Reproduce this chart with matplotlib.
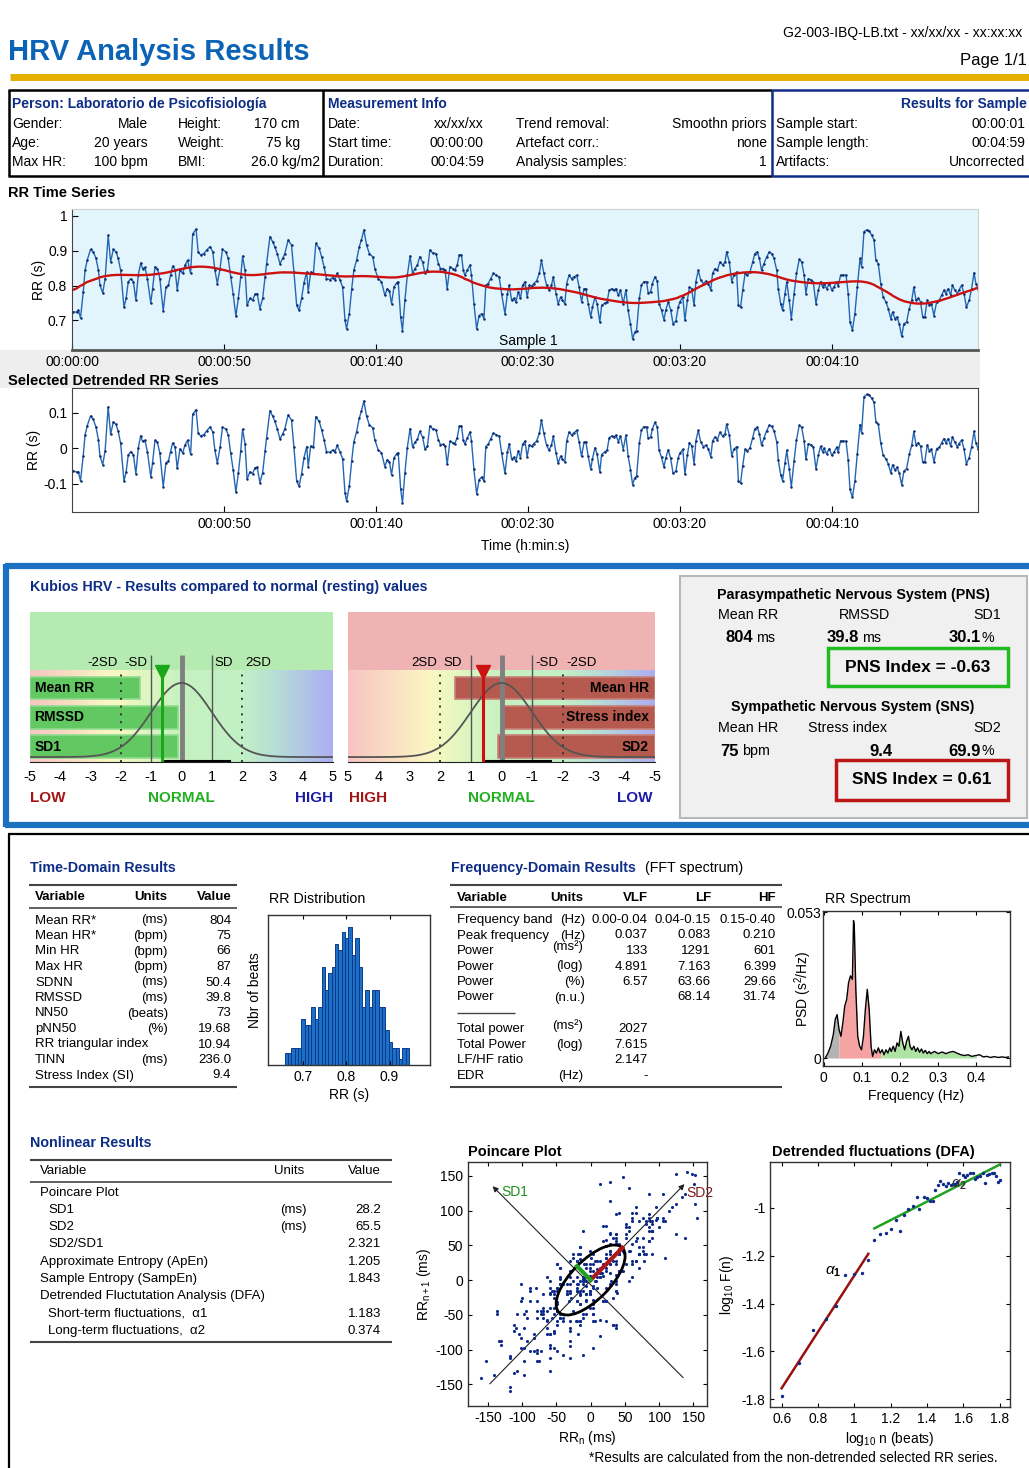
import numpy as np
import matplotlib
matplotlib.use('Agg')
import matplotlib.pyplot as plt
from matplotlib.patches import Rectangle, Ellipse
from matplotlib.colors import LinearSegmentedColormap

# ------------------------------------------------------------
# data
# ------------------------------------------------------------
rr_time = [0.4, 1.5, 2.1, 2.8, 3.7, 4.3, 5.0, 6.1, 7.0, 7.9, 8.7, 9.2, 10.1, 10.9, 11.9, 12.7, 13.6, 14.5, 15.2, 16.0,
           17.1, 17.8, 18.5, 19.3, 20.2, 21.0, 21.8, 22.6, 23.2, 24.0, 24.8, 25.9, 26.5, 27.3, 28.1, 28.9, 30.0, 30.9,
           31.7, 32.4, 33.1, 33.9, 34.6, 35.5, 36.4, 37.2, 38.0, 39.0, 39.7, 40.8, 41.5, 42.3, 43.4, 44.3, 45.4, 46.3,
           47.0, 47.8, 48.7, 49.5, 50.6, 51.4, 52.2, 53.0, 53.9, 54.7, 55.5, 56.1, 56.9, 57.6, 58.5, 59.4, 60.2, 60.9,
           61.8, 62.7, 63.5, 64.0, 65.1, 66.0, 66.7, 67.5, 68.4, 69.3, 70.0, 71.1, 72.2, 73.0, 73.9, 74.7, 75.5, 76.3,
           77.2, 77.7, 78.5, 79.4, 80.2, 81.3, 82.1, 82.9, 83.7, 84.8, 85.7, 86.5, 87.2, 88.1, 89.0, 89.8, 90.3, 91.2,
           92.0, 92.7, 93.6, 94.5, 95.2, 96.0, 96.9, 97.8, 98.9, 99.6, 100.7,
           101.8, 102.9, 103.7, 104.4, 105.1, 105.9, 106.8, 107.3, 108.1, 108.7, 109.5, 110.3, 111.2, 112.0, 112.8,
           113.6, 114.4, 115.3, 116.1, 116.9, 117.7, 118.6, 119.7, 120.5, 121.2, 122.1, 122.7, 123.4, 124.3, 125.2,
           125.9, 126.7, 127.4, 128.1, 128.7, 129.2, 130.0, 130.9, 131.4, 132.2, 133.1, 133.9, 134.7, 135.5, 136.1,
           136.9, 137.7, 138.6, 139.4, 140.5, 141.3, 142.4, 143.2, 143.8, 144.6, 145.3, 146.0, 146.8, 147.5, 148.2,
           149.0, 149.7, 150.4, 151.2, 151.9, 152.8, 153.7, 154.4, 155.2, 156.1, 156.9, 157.7, 158.3, 159.2, 159.9,
           160.7, 161.3, 162.1, 162.7, 163.5, 164.3, 165.1, 166.0, 166.8, 167.6, 168.4, 169.0, 169.8, 170.6, 171.2,
           172.0, 172.7, 173.6, 174.2, 175.3, 176.0, 176.7, 177.5, 178.2, 178.9, 179.7, 180.4, 181.3, 182.2, 182.9,
           183.7, 184.4, 185.1, 185.7, 186.6, 187.3, 188.1, 189.0, 189.5, 190.3, 190.9, 191.7, 192.5, 193.1, 193.9,
           194.7, 195.3, 196.1, 196.9, 197.7, 198.6, 199.4, 199.9,
           200.9, 201.6, 202.4, 203.1, 203.8, 204.6, 205.2, 206.0, 206.8, 207.7, 208.5, 209.3, 210.1, 210.7, 211.5,
           212.3, 213.1, 214.0, 214.8, 215.3, 216.2, 217.0, 217.7, 218.6, 219.2, 219.9, 220.6, 221.4, 222.1, 223.0,
           223.9, 224.6, 225.4, 226.1, 226.8, 227.6, 228.5, 229.4, 230.1, 230.9, 231.8, 232.3, 233.1, 233.7, 234.5,
           235.1, 235.9, 236.6, 237.5, 238.3, 239.2, 240.0, 240.8, 241.4, 242.2, 243.0, 243.8, 244.7, 245.5, 246.2,
           246.9, 247.3, 248.2, 249.1, 249.9, 250.6, 251.5, 252.0, 252.8, 253.7, 254.6, 255.3, 255.9, 256.7, 257.5,
           258.3, 259.2, 259.7, 260.5, 261.4, 262.2, 263.0, 263.8, 264.4, 265.2, 266.0, 266.8, 267.7, 268.5, 269.3,
           269.9, 270.7, 271.4, 272.1, 272.9, 273.6, 274.5, 275.4, 276.2, 276.9, 277.6, 278.4, 279.1, 279.8, 280.5,
           281.3, 282.0, 282.7, 283.5, 284.4, 285.3, 286.0, 286.8, 287.4, 288.2, 289.0, 289.6, 290.4, 291.2, 291.8,
           292.6, 293.4, 294.2, 295.1, 295.9, 296.7, 297.3, 298.1, 298.6]
rr_sec = [.724, .724, .729, .707, .782, .844, .873, .904, .897, .878, .844, .801, .779, .820, .945, .868, .904, .897,
          .878, .844, .738, .763, .811, .820, .811, .758, .830, .865, .849, .852, .820, .750, .791, .854, .849, .820,
          .727, .796, .801, .830, .856, .846, .788, .844, .835, .859, .873, .835, .948, .962, .897, .888, .892, .902,
          .912, .897, .844, .806, .849, .904, .897, .878, .825, .777, .712, .763, .825, .885, .844, .743, .763, .758,
          .775, .777, .734, .763, .825, .863, .940, .926, .912, .892, .863, .878, .892, .931, .916, .839, .743, .729,
          .763, .808, .839, .782, .839, .835, .921, .907, .883, .854, .820, .817, .823, .817, .835, .817, .796, .700,
          .676, .719, .791, .844, .873, .912, .931, .960, .916, .892, .883, .849, .820,
          .811, .772, .791, .785, .748, .796, .808, .811, .710, .671, .758, .830, .885, .835, .849, .859, .883, .868,
          .835, .844, .902, .894, .892, .863, .849, .849, .844, .791, .854, .849, .844, .859, .888, .888, .844, .830,
          .844, .859, .830, .748, .676, .714, .719, .705, .801, .806, .820, .835, .830, .825, .777, .719, .777, .801,
          .758, .763, .753, .782, .763, .801, .811, .767, .801, .798, .806, .813, .835, .873, .835, .801, .787, .801,
          .825, .777, .748, .767, .758, .748, .806, .830, .820, .825, .830, .796, .753, .791, .791, .748, .710, .738,
          .767, .748, .695, .743, .750, .753, .787, .791, .787, .791, .772, .787, .748, .788, .729, .690, .647, .666,
          .671, .763, .801, .811, .811, .779, .782, .806, .825, .813, .748, .729, .702, .729, .753, .731, .690, .698,
          .738, .753,
          .767, .700, .758, .796, .791, .743, .811, .844, .815, .806, .813, .806, .787, .835, .849, .844, .868, .859,
          .868, .897, .868, .811, .830, .839, .743, .738, .787, .835, .830, .839, .868, .892, .897, .878, .844, .863,
          .883, .897, .892, .878, .844, .791, .748, .729, .777, .811, .758, .705, .777, .835, .875, .868, .830, .777,
          .820, .817, .811, .748, .787, .811, .796, .806, .791, .806, .787, .796, .811, .798, .830, .830, .830, .777,
          .695, .673, .719, .796, .878, .854, .955, .960, .958, .945, .931, .873, .863, .806, .767, .753, .734, .705,
          .724, .705, .710, .690, .654, .690, .695, .734, .758, .796, .758, .763, .753, .710, .710, .758, .743, .748,
          .714, .753, .758, .772, .787, .777, .791, .772, .801, .787, .777, .788, .801, .777, .738, .758, .791, .837,
          .806, .791, .787]

time_ticks = [0, 50, 100, 150, 200, 250]
time_labels = ['00:00:00', '00:00:50', '00:01:40', '00:02:30', '00:03:20', '00:04:10']

# RR distribution (bins of 1/128 s)
hist_start = 0.6563
hist_counts = [2, 2, 3, 3, 3, 8, 7, 7, 10, 8, 10, 17, 13, 16, 17, 21, 20, 23, 22, 24, 19, 22, 17, 10, 13,
               10, 13, 13, 10, 10, 6, 4, 3, 3, 1, 3, 3]

# FFT spectrum
spec_f = [0.004, 0.011, 0.018, 0.025, 0.030, 0.035, 0.040, 0.045, 0.050, 0.055, 0.060, 0.065, 0.070, 0.075,
          0.078, 0.080, 0.084, 0.089, 0.094, 0.099, 0.104, 0.109, 0.114, 0.119, 0.124, 0.128, 0.133, 0.138,
          0.143, 0.148, 0.153, 0.158, 0.163, 0.168, 0.173, 0.177, 0.182, 0.187, 0.192, 0.197, 0.202, 0.207,
          0.212, 0.217, 0.222, 0.226, 0.231, 0.236, 0.241, 0.246, 0.251, 0.256, 0.261, 0.266, 0.271, 0.276,
          0.280, 0.290, 0.300, 0.310, 0.320, 0.329, 0.339, 0.349, 0.359, 0.369, 0.378, 0.388, 0.398, 0.408,
          0.418, 0.427, 0.437, 0.447, 0.457, 0.467, 0.476, 0.484]
spec_p = [0.0, 0.0018, 0.0043, 0.0085, 0.0140, 0.0158, 0.0104, 0.0079, 0.0128, 0.0189, 0.0213, 0.0274, 0.0299,
          0.0286, 0.0500, 0.0480, 0.0250, 0.0079, 0.0043, 0.0030, 0.0079, 0.0177, 0.0250, 0.0177, 0.0043, 0.0006,
          0.0030, 0.0018, 0.0037, 0.0018, 0.0030, 0.0012, 0.0030, 0.0018, 0.0037, 0.0024, 0.0043, 0.0024, 0.0055,
          0.0043, 0.0097, 0.0055, 0.0030, 0.0061, 0.0079, 0.0043, 0.0030, 0.0043, 0.0024, 0.0037, 0.0021, 0.0033,
          0.0018, 0.0028, 0.0016, 0.0024, 0.0016, 0.0024, 0.0016, 0.0022, 0.0016, 0.0021, 0.0024, 0.0018, 0.0012,
          0.0009, 0.0012, 0.0006, 0.0009, 0.0012, 0.0004, 0.0006, 0.0002, 0.0005, 0.0002, 0.0004, 0.0002, 0.0004]
bands = [(0.0, 0.04, '#b4b4b4'), (0.04, 0.15, '#f5a3a3'), (0.15, 0.40, '#aee3a4')]

# DFA
dfa_logn = [0.600, 0.695, 0.774, 0.844, 0.899, 0.950, 0.998, 1.040, 1.077, 1.110, 1.141, 1.172, 1.200, 1.228,
            1.251, 1.275, 1.297, 1.321, 1.343, 1.358, 1.383, 1.398, 1.417, 1.435, 1.444, 1.462, 1.472, 1.490,
            1.505, 1.517, 1.530, 1.541, 1.554, 1.567, 1.578, 1.596, 1.609, 1.622, 1.637, 1.651, 1.664, 1.677,
            1.692, 1.706, 1.719, 1.728, 1.743, 1.756, 1.769, 1.780, 1.793, 1.802]
dfa_logf = [-1.786, -1.647, -1.512, -1.463, -1.410, -1.279, -1.277, -1.272, -1.219, -1.135, -1.111, -1.103,
            -1.086, -1.049, -1.098, -1.028, -1.004, -0.993, -0.954, -1.006, -0.954, -0.957, -0.972, -0.972,
            -0.926, -0.905, -0.887, -0.898, -0.909, -0.895, -0.905, -0.898, -0.901, -0.891, -0.856, -0.863,
            -0.870, -0.861, -0.856, -0.854, -0.877, -0.870, -0.866, -0.856, -0.894, -0.863, -0.859, -0.856,
            -0.856, -0.868, -0.891, -0.884]

sd1, sd2 = 28.2, 65.5
pns_index, sns_index = -0.63, 0.61
pns_names = ['Mean RR', 'RMSSD', 'SD1']
pns_bars = [-1.37, -0.12, -0.12]
sns_names = ['Mean HR', 'Stress index', 'SD2']
sns_bars = [1.51, -0.08, 0.11]

td_vars = ['Mean RR*', 'Mean HR*', 'Min HR', 'Max HR', 'SDNN', 'RMSSD', 'NN50', 'pNN50',
           'RR triangular index', 'TINN', 'Stress Index (SI)']
td_units = ['(ms)', '(bpm)', '(bpm)', '(bpm)', '(ms)', '(ms)', '(beats)', '(%)', '', '(ms)', '']
td_vals = ['804', '75', '66', '87', '50.4', '39.8', '73', '19.68', '10.94', '236.0', '9.4']

fd_rows = [('Frequency band', '(Hz)', '0.00-0.04', '0.04-0.15', '0.15-0.40'),
           ('Peak frequency', '(Hz)', '0.037', '0.083', '0.210'),
           ('Power', '', '133', '1291', '601'),
           ('Power', '', '4.891', '7.163', '6.399'),
           ('Power', '(%)', '6.57', '63.66', '29.66'),
           ('Power', '(n.u.)', '', '68.14', '31.74')]
fd_rows2 = [('Total power', '2027'), ('Total Power', '7.615'), ('LF/HF ratio', '2.147'), ('EDR', '-')]

nl_rows = [('Poincare Plot', '', '', 0), ('SD1', '(ms)', '28.2', 1), ('SD2', '(ms)', '65.5', 1),
           ('SD2/SD1', '', '2.321', 1), ('Approximate Entropy (ApEn)', '', '1.205', 0),
           ('Sample Entropy (SampEn)', '', '1.843', 0), ('Detrended Fluctutation Analysis (DFA)', '', '', 0),
           ('Short-term fluctuations,  α1', '', '1.183', 1), ('Long-term fluctuations,  α2', '', '0.374', 1)]

# ------------------------------------------------------------
plt.rcParams['font.family'] = ['Liberation Sans', 'DejaVu Sans']
plt.rcParams['mathtext.fontset'] = 'custom'
plt.rcParams['mathtext.rm'] = 'Liberation Sans'
plt.rcParams['mathtext.it'] = 'Liberation Sans:italic'
plt.rcParams['mathtext.bf'] = 'Liberation Sans:bold'
plt.rcParams['axes.unicode_minus'] = False
plt.rcParams['xtick.direction'] = 'in'
plt.rcParams['ytick.direction'] = 'in'
plt.rcParams['xtick.labelsize'] = 10
plt.rcParams['ytick.labelsize'] = 10

W, H = 1029, 1468
fig = plt.figure(figsize=(W / 100, H / 100), dpi=100)
bg = fig.add_axes([0, 0, 1, 1])
bg.set_xlim(0, W)
bg.set_ylim(H, 0)
bg.axis('off')

NAVY = '#0e2d86'
BLUE = '#0b63b6'


def ax_px(x0, y0, x1, y1):
    return fig.add_axes([x0 / W, 1 - y1 / H, (x1 - x0) / W, (y1 - y0) / H])


def T(x, y, s, size=10, ha='left', weight='normal', color='black', **kw):
    bg.text(x, y, s, fontsize=size, ha=ha, va='center', fontweight=weight, color=color, **kw)


def L(x0, x1, y0, y1, color='black', lw=1.0, **kw):
    bg.plot([x0, x1], [y0, y1], color=color, lw=lw, solid_capstyle='butt', **kw)


def box_ticks(ax):
    ax.tick_params(top=True, right=True, length=3, width=0.8)
    for s in ax.spines.values():
        s.set_linewidth(1.0)
        s.set_color('#333333')


# ---------------- header ----------------
T(8, 52, 'HRV Analysis Results', size=21, weight='bold', color=BLUE)
T(1022, 33, 'G2-003-IBQ-LB.txt - xx/xx/xx - xx:xx:xx', size=10, ha='right')
T(1027, 60, 'Page 1/1', size=12, ha='right')
L(10, 1029, 77, 77, color='#e6b000', lw=5)

# info box
L(8, 772, 90, 90, lw=1.8)
L(8, 772, 176, 176, lw=1.8)
L(772, 1029, 90, 90, color=NAVY, lw=1.8)
L(772, 1029, 176, 176, color=NAVY, lw=1.8)
L(9, 9, 90, 176, lw=1.8)
L(323, 323, 90, 176, lw=1.8)
L(772, 772, 90, 176, color=NAVY, lw=1.8)
T(12, 104, 'Person: Laboratorio de Psicofisiología', weight='bold', color=NAVY)
T(328, 104, 'Measurement Info', weight='bold', color=NAVY)
T(1027, 104, 'Results for Sample', weight='bold', color=NAVY, ha='right')
rows_y = [124, 143, 162]
for y, a, b, c, d in zip(rows_y, ['Gender:', 'Age:', 'Max HR:'], ['Male', '20 years', '100 bpm'],
                         ['Height:', 'Weight:', 'BMI:'], ['170 cm', '75 kg', '26.0 kg/m2']):
    T(12, y, a)
    T(148, y, b, ha='right')
    T(178, y, c)
    T(320 if d.endswith('m2') else 300, y, d, ha='right')
for y, a, b, c, d in zip(rows_y, ['Date:', 'Start time:', 'Duration:'], ['xx/xx/xx', '00:00:00', '00:04:59'],
                         ['Trend removal:', 'Artefact corr.:', 'Analysis samples:'], ['Smoothn priors', 'none', '1']):
    T(328, y, a)
    T(484, y, b, ha='right')
    T(516, y, c)
    T(767, y, d, ha='right')
for y, a, b in zip(rows_y, ['Sample start:', 'Sample length:', 'Artifacts:'], ['00:00:01', '00:04:59', 'Uncorrected']):
    T(776, y, a)
    T(1025, y, b, ha='right')

# ---------------- RR time series ----------------
t = np.array(rr_time)
rr = np.array(rr_sec)
n = len(rr)
D2 = np.diff(np.eye(n), 2, axis=0)
lam = 75.0
trend = np.linalg.solve(np.eye(n) + lam ** 2 * D2.T @ D2, rr)   # smoothness priors trend
rr_detr = rr - trend

T(8, 193, 'RR Time Series', size=10.5, weight='bold')
bg.add_patch(Rectangle((0, 350), 980, 38, color='#eeeeee', lw=0))
ax1 = ax_px(72, 209, 978, 350)
ax1.set_facecolor('#e3f5fc')
ax1.plot(t, rr, color='#2466b4', lw=1.0, marker='.', ms=1.6, mec='#0b2a6e', mfc='#0b2a6e')
ax1.plot(t, trend, color='#cc1111', lw=1.7)
ax1.set_xlim(0, 298)
ax1.set_ylim(0.615, 1.02)
ax1.set_yticks([0.7, 0.8, 0.9, 1.0])
ax1.set_yticklabels(['0.7', '0.8', '0.9', '1'])
ax1.set_xticks(time_ticks)
ax1.set_xticklabels(time_labels)
ax1.set_ylabel('RR (s)', fontsize=10, labelpad=1)
ax1.tick_params(length=4)
ax1.text(150, 0.622, 'Sample 1', ha='center', va='bottom', fontsize=10)
for k in ['top', 'right']:
    ax1.spines[k].set_color('#d0d0d0')
ax1.spines['bottom'].set_color('#555555')
ax1.spines['bottom'].set_linewidth(2)
ax1.spines['left'].set_color('#444444')

T(8, 381, 'Selected Detrended RR Series', size=10.5, weight='bold')
ax2 = ax_px(72, 388, 978, 512)
ax2.plot(t, rr_detr, color='#2466b4', lw=1.0, marker='.', ms=1.6, mec='#0b2a6e', mfc='#0b2a6e')
ax2.set_xlim(0, 298)
ax2.set_ylim(-0.18, 0.169)
ax2.set_yticks([-0.1, 0, 0.1])
ax2.set_yticklabels(['-0.1', '0', '0.1'])
ax2.set_xticks(time_ticks[1:])
ax2.set_xticklabels(time_labels[1:])
ax2.set_ylabel('RR (s)', fontsize=10, labelpad=2)
ax2.set_xlabel('Time (h:min:s)', fontsize=10, labelpad=6)
ax2.tick_params(length=4)
for s in ax2.spines.values():
    s.set_color('#444444')

# ---------------- Kubios panel ----------------
KB = '#1c70c2'
L(5, 1029, 566, 566, color=KB, lw=4.5)
L(5, 1029, 825, 825, color=KB, lw=4.5)
L(6, 6, 564, 827, color=KB, lw=4.5)
T(30, 587, 'Kubios HRV - Results compared to normal (resting) values', size=10.3, weight='bold', color=NAVY)

grad = [(0.0, '#f8c4c4'), (0.27, '#fbf8c2'), (0.42, '#d6f5c0'), (0.5, '#c6f2c0'), (0.7, '#c2f0c6'),
        (0.82, '#b6dcd8'), (1.0, '#adadf3')]
gcmap = LinearSegmentedColormap.from_list('gauge', grad)


def gauge(x0, x1, flip, top_color, names, bars, bar_col, bar_edge, mval, mcol):
    ax = ax_px(x0, 612, x1, 762)
    ax.set_ylim(0, 1)
    ax.set_xlim((5, -5) if flip else (-5, 5))
    ext = (5, -5, 0, 0.613) if flip else (-5, 5, 0, 0.613)
    ax.imshow(np.linspace(0, 1, 256)[None, :], extent=ext, aspect='auto', cmap=gcmap, zorder=0)
    ax.axhspan(0.613, 1.0, color=top_color, lw=0, zorder=0)
    ys = [0.493, 0.297, 0.103]
    ax.barh(ys, [v + 5 for v in bars], left=-5, height=0.15, color=bar_col, edgecolor=bar_edge,
            lw=1.2, zorder=2)
    for y, nm in zip(ys, names):
        if flip:
            ax.text(-4.8, y, nm, ha='right', va='center', fontsize=10, fontweight='bold', zorder=6)
        else:
            ax.text(-4.85, y, nm, ha='left', va='center', fontsize=10, fontweight='bold', zorder=6)
    xs = np.linspace(-5, 5, 300)
    ax.plot(xs, 0.033 + 0.494 * np.exp(-xs ** 2 / 2), color='#555555', lw=1.3, zorder=4)
    ax.vlines(0, 0, 0.713, color='#808080', lw=3.5, zorder=3)
    ax.vlines([-1, 1], 0, 0.713, color='#555555', lw=1.0, zorder=3)
    ax.vlines([-2, 2], 0, 0.613, color='#333333', lw=1.4, linestyles=(0, (1, 3)), zorder=3)
    if not flip:
        ax.text(-2.1, 0.66, '-2SD', ha='right', va='center', fontsize=9.5)
        ax.text(-1.9, 0.66, '-SD', ha='left', va='center', fontsize=9.5)
        ax.text(1.1, 0.66, 'SD', ha='left', va='center', fontsize=9.5)
        ax.text(2.1, 0.66, '2SD', ha='left', va='center', fontsize=9.5)
        ax.plot([-0.54, 1.6], [0.006, 0.006], color='black', lw=1.5, zorder=5)
    else:
        ax.text(2.1, 0.66, '2SD', ha='right', va='center', fontsize=9.5)
        ax.text(1.9, 0.66, 'SD', ha='left', va='center', fontsize=9.5)
        ax.text(-1.1, 0.66, '-SD', ha='left', va='center', fontsize=9.5)
        ax.text(-2.1, 0.66, '-2SD', ha='left', va='center', fontsize=9.5)
        ax.plot([0.54, -1.6], [0.006, 0.006], color='black', lw=1.5, zorder=5)
    ax.vlines(mval, 0, 0.6, color=mcol, lw=2.2, zorder=5)
    ax.plot(mval, 0.6, marker='v', ms=10, color=mcol, zorder=6)
    ax.set_xticks(range(-5, 6))
    ax.set_xticklabels([str(v) for v in range(-5, 6)])
    ax.tick_params(left=False, labelleft=False, bottom=False, labelsize=10.5, pad=6)
    for k in ['top', 'right', 'left']:
        ax.spines[k].set_visible(False)
    ax.spines['bottom'].set_color('#222222')
    return ax


gauge(30, 333, False, '#b5ebb0', pns_names, pns_bars, '#62c962', '#8edc8e', pns_index, '#1aa81a')
gauge(348, 655, True, '#f0b3b3', sns_names, sns_bars, '#b65a4f', '#c88078', sns_index, '#cc1111')

T(181, 623, 'Parasympathetic tone (recovery)', size=10.3, weight='bold', ha='center')
T(181, 643, 'PNS Index = %.2f' % pns_index, size=10.3, weight='bold', ha='center')
T(501, 623, 'Sympathetic tone (stress)', size=10.3, weight='bold', ha='center')
T(501, 643, 'SNS Index = %.2f' % sns_index, size=10.3, weight='bold', ha='center')
T(30, 798, 'LOW', size=11, weight='bold', color='#a31515')
T(181, 798, 'NORMAL', size=11, weight='bold', color='#22b022', ha='center')
T(333, 798, 'HIGH', size=11, weight='bold', color='#1c1ca8', ha='right')
T(349, 798, 'HIGH', size=11, weight='bold', color='#a31515')
T(501, 798, 'NORMAL', size=11, weight='bold', color='#22b022', ha='center')
T(653, 798, 'LOW', size=11, weight='bold', color='#1c1ca8', ha='right')

# summary box
bg.add_patch(Rectangle((680, 576), 347, 242, fc='#f0f0f0', ec='#b8b8b8', lw=1.5))
T(853, 595, 'Parasympathetic Nervous System (PNS)', size=10.3, weight='bold', ha='center')
T(718, 615, 'Mean RR', size=10.3)
T(864, 615, 'RMSSD', size=10.3, ha='center')
T(1001, 615, 'SD1', size=10.3, ha='right')
T(753, 638, '804', size=12, weight='bold', ha='right')
T(756, 638, 'ms', size=10.3)
T(859, 638, '39.8', size=12, weight='bold', ha='right')
T(862, 638, 'ms', size=10.3)
T(981, 638, '30.1', size=12, weight='bold', ha='right')
T(981, 638, '%', size=10.3)
bg.add_patch(Rectangle((828, 648), 180, 38, fill=False, ec='#22bb22', lw=2.5))
T(918, 667, 'PNS Index = %.2f' % pns_index, size=12.5, weight='bold', ha='center')
T(853, 707, 'Sympathetic Nervous System (SNS)', size=10.3, weight='bold', ha='center')
T(718, 728, 'Mean HR', size=10.3)
T(848, 728, 'Stress index', size=10.3, ha='center')
T(1001, 728, 'SD2', size=10.3, ha='right')
T(739, 751, '75', size=12, weight='bold', ha='right')
T(742, 751, 'bpm', size=10.3)
T(892, 751, '9.4', size=12, weight='bold', ha='right')
T(981, 751, '69.9', size=12, weight='bold', ha='right')
T(981, 751, '%', size=10.3)
bg.add_patch(Rectangle((836, 760), 172, 40, fill=False, ec='#bb1515', lw=2.5))
T(922, 780, 'SNS Index = %.2f' % sns_index, size=12.5, weight='bold', ha='center')

# ---------------- lower section ----------------
L(8, 1029, 834, 834, lw=1.6)
L(9, 9, 834, 1468, lw=1.6)

# time-domain table
T(30, 868, 'Time-Domain Results', size=10.3, weight='bold', color=NAVY)
L(29, 237, 885, 885, color='#444444', lw=1.5)
T(35, 897, 'Variable', size=9.5, weight='bold')
T(167, 897, 'Units', size=9.5, weight='bold', ha='right')
T(232, 897, 'Value', size=9.5, weight='bold', ha='right')
L(29, 237, 908, 908, color='#444444', lw=1.2)
for i, (v, u, val) in enumerate(zip(td_vars, td_units, td_vals)):
    y = 920.5 + i * 15.5
    T(35, y, v, size=9.5)
    T(168, y, u, size=9.5, ha='right')
    T(231, y, val, size=9.5, ha='right')
L(29, 237, 1087, 1087, color='#444444', lw=1.5)

# RR distribution
binw = 1.0 / 128
edges = hist_start + binw * np.arange(len(hist_counts))
axh = ax_px(268, 915, 430, 1065)
axh.bar(edges, hist_counts, width=binw, align='edge', color='#1b6fc6', edgecolor='#0c3b8c', lw=0.7)
axh.set_xlim(0.618, 0.994)
axh.set_ylim(0, 26)
axh.set_yticks([])
axh.set_xticks([0.7, 0.8, 0.9])
axh.set_xticklabels(['0.7', '0.8', '0.9'])
axh.set_xlabel('RR (s)', fontsize=10, labelpad=3)
axh.set_ylabel('Nbr of beats', fontsize=10, labelpad=4)
box_ticks(axh)
T(269, 899, 'RR Distribution', size=10.3)

# frequency-domain table
T(451, 868, 'Frequency-Domain Results', size=10.3, weight='bold', color=NAVY)
T(645, 868, '(FFT spectrum)', size=10.3)
L(450, 782, 885, 885, color='#444444', lw=1.5)
T(457, 898, 'Variable', size=9.5, weight='bold')
T(583, 898, 'Units', size=9.5, weight='bold', ha='right')
T(648, 898, 'VLF', size=9.5, weight='bold', ha='right')
T(711, 898, 'LF', size=9.5, weight='bold', ha='right')
T(776, 898, 'HF', size=9.5, weight='bold', ha='right')
L(450, 782, 907, 907, color='#444444', lw=1.2)
for i, (v, u, a, b, c) in enumerate(fd_rows):
    y = 920 + i * 15.5
    T(457, y, v, size=9.5)
    T(585, y, u, size=9.5, ha='right')
    T(648, y, a, size=9.5, ha='right')
    T(711, y, b, size=9.5, ha='right')
    T(776, y, c, size=9.5, ha='right')
T(583, 947, '(ms²)', size=9.5, ha='right')
T(583, 966, '(log)', size=9.5, ha='right')
L(457, 515, 1013, 1013, color='#444444', lw=1.0)
for i, (v, a) in enumerate(fd_rows2):
    y = 1029 + i * 15.7
    T(457, y, v, size=9.5)
    T(648, y, a, size=9.5, ha='right')
T(583, 1026, '(ms²)', size=9.5, ha='right')
T(583, 1045, '(log)', size=9.5, ha='right')
T(583, 1076, '(Hz)', size=9.5, ha='right')
L(450, 782, 1087, 1087, color='#444444', lw=1.5)

# spectrum
f = np.array(spec_f)
p = np.array(spec_p)
axs = ax_px(823, 911, 1010, 1066)
for lo, hi, col in bands:
    i0 = max(np.searchsorted(f, lo) - 1, 0)
    i1 = min(np.searchsorted(f, hi) + 1, len(f))
    ff = np.clip(f[i0:i1], lo, hi)
    axs.fill_between(ff, 0, p[i0:i1], color=col, lw=0)
axs.plot(f, p, color='black', lw=1.0)
axs.set_xlim(-0.002, 0.488)
axs.set_ylim(-0.0029, 0.0535)
axs.set_yticks([0, 0.053])
axs.set_yticklabels(['0', '0.053'])
axs.set_xticks([0, 0.1, 0.2, 0.3, 0.4])
axs.set_xticklabels(['0', '0.1', '0.2', '0.3', '0.4'])
axs.tick_params(axis='y', pad=1)
axs.set_xlabel('Frequency (Hz)', fontsize=10, labelpad=3)
axs.set_ylabel('PSD (s$^2$/Hz)', fontsize=10)
axs.yaxis.set_label_coords(-0.05, 0.5)
box_ticks(axs)
T(825, 899, 'RR Spectrum', size=10.3)

# nonlinear table
T(30, 1143, 'Nonlinear Results', size=10.3, weight='bold', color=NAVY)
L(30, 392, 1160, 1160, color='#444444', lw=1.5)
T(40, 1171, 'Variable', size=9.5)
T(304, 1171, 'Units', size=9.5, ha='right')
T(381, 1171, 'Value', size=9.5, ha='right')
L(30, 392, 1182, 1182, color='#444444', lw=1.2)
for i, (v, u, val, ind) in enumerate(nl_rows):
    y = 1192.5 + i * 17.3
    T(40 + 8 * ind, y, v, size=9.5)
    T(307, y, u, size=9.5, ha='right')
    T(381, y, val, size=9.5, ha='right')
L(30, 392, 1342, 1342, color='#444444', lw=1.5)

# Poincare plot
x_pc = (rr[:-1] - rr.mean()) * 1000
y_pc = (rr[1:] - rr.mean()) * 1000
axp = ax_px(468, 1162, 707, 1406)
axp.scatter(x_pc, y_pc, s=5, color='#0d2a8a', lw=0, zorder=2)
cx, cy = x_pc.mean(), y_pc.mean()
axp.add_patch(Ellipse((cx, cy), 2 * sd2, 2 * sd1, angle=45, fill=False, ec='black', lw=2, zorder=3))
c45 = np.cos(np.pi / 4)
axp.annotate('', xy=(140, 141), xytext=(-150, -152),
             arrowprops=dict(arrowstyle='-|>', color='#222222', lw=0.8, mutation_scale=8), zorder=1)
axp.annotate('', xy=(-146, 138), xytext=(138, -143),
             arrowprops=dict(arrowstyle='-|>', color='#222222', lw=0.8, mutation_scale=8), zorder=1)
axp.plot([cx, cx + sd2 * c45], [cy, cy + sd2 * c45], color='#b01818', lw=3, zorder=4)
axp.plot([cx, cx - sd1 * c45], [cy, cy + sd1 * c45], color='#22a022', lw=3, zorder=4)
axp.text(-131, 127, 'SD1', color='#1f8f1f', fontsize=10, va='center')
axp.text(140, 125, 'SD2', color='#7a1a1a', fontsize=10, va='center')
axp.set_xlim(-179, 170)
axp.set_ylim(-181, 170)
axp.set_xticks([-150, -100, -50, 0, 50, 100, 150])
axp.set_yticks([-150, -100, -50, 0, 50, 100, 150])
axp.set_xlabel('RR$_{\\mathrm{n}}$ (ms)', fontsize=10, labelpad=3)
axp.set_ylabel('RR$_{\\mathrm{n+1}}$ (ms)', fontsize=10, labelpad=2)
box_ticks(axp)
T(468, 1152, 'Poincare Plot', size=10.5, weight='bold')

# DFA
lx = np.array(dfa_logn)
lf = np.array(dfa_logf)
axd = ax_px(770, 1162, 1010, 1407)
axd.scatter(lx, lf, s=6, color='#0d2a8a', lw=0, zorder=3)
m1 = lx <= 1.09
m2 = lx >= 1.10
k1 = np.polyfit(lx[m1], lf[m1], 1)
k2 = np.polyfit(lx[m2], lf[m2], 1)
xa = np.array([lx[m1].min(), lx[m1].max()])
xb = np.array([lx[m2].min(), lx[m2].max()])
axd.plot(xa, np.polyval(k1, xa), color='#9a1010', lw=1.8, zorder=2)
axd.plot(xb, np.polyval(k2, xb), color='#22a022', lw=1.8, zorder=2)
axd.text(0.84, -1.268, '$\\alpha_{\\mathbf{1}}$', fontsize=11, va='center')
axd.text(1.535, -0.905, '$\\alpha_{\\mathbf{2}}$', fontsize=11, va='center', color='#333333')
axd.set_xlim(0.536, 1.857)
axd.set_ylim(-1.832, -0.808)
axd.set_xticks([0.6, 0.8, 1.0, 1.2, 1.4, 1.6, 1.8])
axd.set_xticklabels(['0.6', '0.8', '1', '1.2', '1.4', '1.6', '1.8'])
axd.set_yticks([-1.8, -1.6, -1.4, -1.2, -1.0])
axd.set_yticklabels(['-1.8', '-1.6', '-1.4', '-1.2', '-1'])
axd.set_xlabel('log$_{\\mathrm{10}}$ n (beats)', fontsize=10, labelpad=3)
axd.set_ylabel('log$_{\\mathrm{10}}$ F(n)', fontsize=10, labelpad=4)
box_ticks(axd)
T(772, 1152, 'Detrended fluctuations (DFA)', size=10.5, weight='bold')

T(998, 1458, '*Results are calculated from the non-detrended selected RR series.', size=9.8, ha='right')

fig.savefig('out.png', dpi=100)
